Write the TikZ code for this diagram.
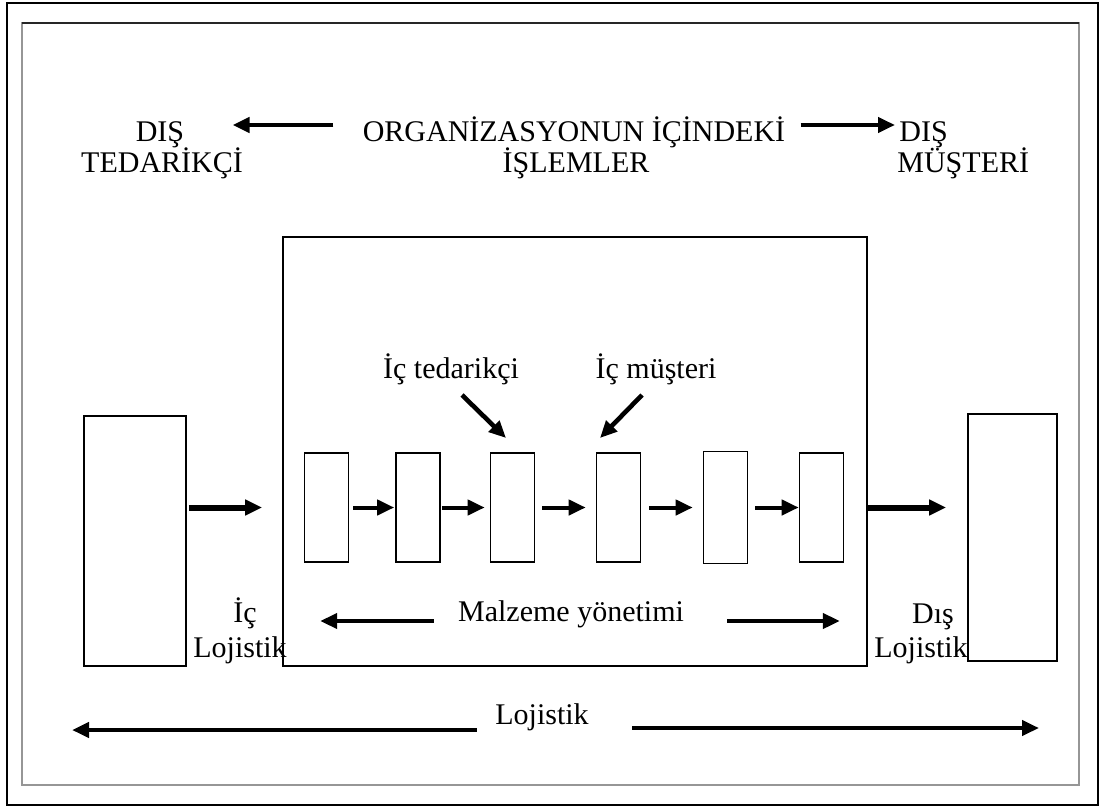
\documentclass[tikz,border=0pt]{standalone}
\usepackage{fontspec}
\setmainfont{Liberation Serif}
\usepackage{tikz}
\usetikzlibrary{arrows.meta, positioning}
\definecolor{frameGray}{RGB}{150, 150, 150}

\begin{document}
\begin{tikzpicture}[x=0.5pt, y=-0.5pt,
    every node/.style={font=\fontsize{15}{17}\selectfont},
    txt/.style={inner sep=0pt, anchor=base},
    box/.style={draw, line width=0.8pt, inner sep=0pt},
    unit/.style={box, minimum width=22pt, minimum height=54.5pt},
    flow/.style={line width=2.3pt, -{Triangle[length=8.5pt, width=7.5pt]}},
    bigflow/.style={flow, line width=3pt},
    smallflow/.style={flow, line width=2pt}]
  \useasboundingbox (0,0) rectangle (1101,807);
  % Outer border and inner frame
  \draw[line width=1pt] (7,3) rectangle (1098,805);
  \draw[frameGray, line width=1.2pt] (22,23) rectangle (1079,785);
  \draw[black!85, line width=1pt] (22,23) -- (1079,23);

  % Top row
  \node[txt] (supA) at (160,142) {DIŞ};
  \node[txt] (supB) at (162,173) {TEDARİKÇİ};
  \node[txt] (ops) at (574,142) {ORGANİZASYONUN İÇİNDEKİ};
  \node[txt] (ops2) at (576,173) {İŞLEMLER};
  \node[txt, anchor=base west] (cusA) at (899,142) {DIŞ};
  \node[txt, anchor=base west] (cusB) at (897,173) {MÜŞTERİ};
  \draw[flow, shorten <=14.5pt, shorten >=24pt] ([yshift=8.5pt]ops.base west) -- ([yshift=8.5pt]supA.base east);
  \draw[flow, shorten <=7.5pt, shorten >=2pt] ([yshift=8.5pt]ops.base east) -- ([yshift=8.5pt]cusA.base west);

  % Boxes
  \node[box, minimum width=51pt, minimum height=125pt] (supplier) at (135,541) {};
  \node[box, minimum width=292pt, minimum height=214.5pt] (org) at (575,451.5) {};
  \node[box, minimum width=44.5pt, minimum height=123.5pt] (customer) at (1012.5,537.5) {};
  \node[unit] (b1) at (326.5,507.5) {};
  \node[unit] (b2) at (418,507.5) {};
  \node[unit] (b3) at (512.5,507.5) {};
  \node[unit] (b4) at (618.5,507.5) {};
  \node[unit, minimum height=56pt] (b5) at (725.5,507.5) {};
  \node[unit] (b6) at (821.5,507.5) {};

  % Flow between boxes
  \draw[bigflow, shorten <=1pt, shorten >=10pt] (supplier.east |- b1) -- (org.west |- b1);
  \draw[smallflow, shorten <=2pt, shorten >=0.5pt] (b1) -- (b2);
  \draw[smallflow, shorten <=0.5pt, shorten >=2.5pt] (b2) -- (b3);
  \draw[smallflow, shorten <=3.5pt, shorten >=5pt] (b3) -- (b4);
  \draw[smallflow, shorten <=4pt, shorten >=5pt] (b4) -- (b5);
  \draw[smallflow, shorten <=3.5pt] (b5) -- (b6);
  \draw[bigflow, shorten >=10.5pt] (org.east |- b6) -- (customer.west |- b6);

  % Internal supplier / customer
  \node[txt] (itsup) at (451,378) {İç tedarikçi};
  \node[txt] (itcus) at (656,378) {İç müşteri};
  \draw[flow] ([shift={(11,17)}]itsup.base) -- ++(44,43);
  \draw[flow] ([shift={(-14,17)}]itcus.base) -- ++(-42,43);

  % Lower labels
  \node[txt] (inA) at (245,622) {İç};
  \node[txt] (inB) at (240,657) {Lojistik};
  \node[txt] (outA) at (933,623) {Dış};
  \node[txt] (outB) at (921,657) {Lojistik};
  \node[txt] (malz) at (571,621) {Malzeme yönetimi};
  \draw[flow, shorten <=12pt, shorten >=19pt] (malz.base west) -- (org.west |- malz.base);
  \draw[flow, shorten <=21.5pt, shorten >=14pt] (malz.base east) -- (org.east |- malz.base);

  % Logistics span
  \node[txt] (logi) at (542,724) {Lojistik};
  \coordinate (logL) at (72,730);
  \coordinate (logR) at (1039,728);
  \draw[flow, shorten <=9pt] ([yshift=-3pt]logi.base west) -- (logL);
  \draw[flow, shorten <=21.5pt] ([yshift=-2pt]logi.base east) -- (logR);
\end{tikzpicture}
\end{document}
